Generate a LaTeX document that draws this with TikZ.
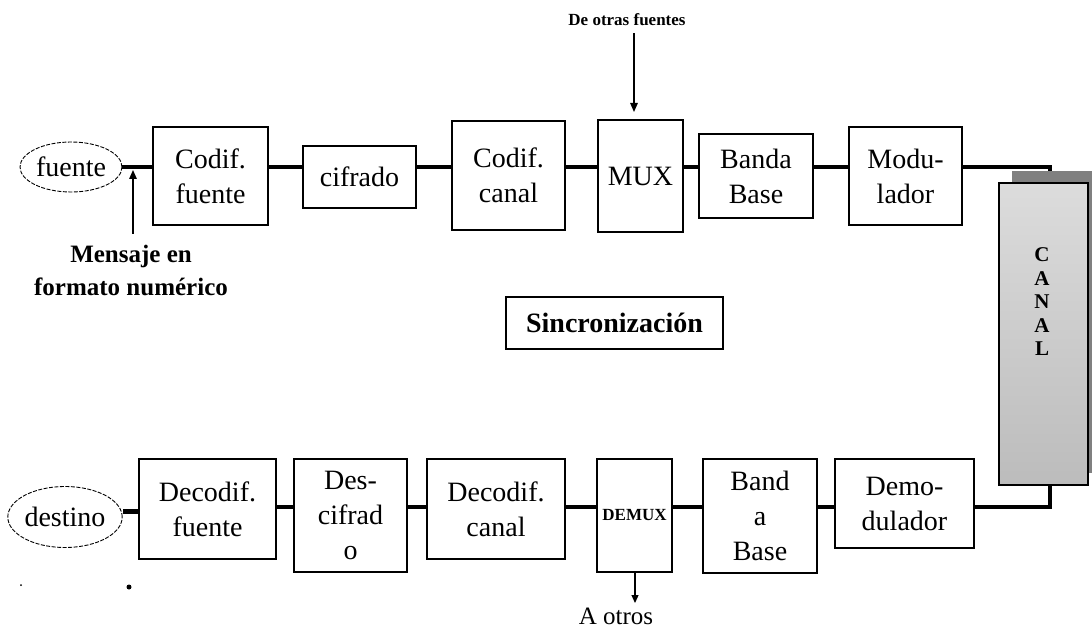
\documentclass[tikz,border=0pt]{standalone}
\usepackage{fontspec}
\setmainfont{Liberation Serif}
\usetikzlibrary{arrows.meta,shapes.geometric}
\definecolor{canaltop}{RGB}{220,220,220}
\definecolor{canalbot}{RGB}{188,188,188}
\definecolor{canalshadow}{RGB}{128,128,128}
\begin{document}
\begin{tikzpicture}[x=1pt,y=-1pt,
  blk/.style={draw, line width=1.5pt, rectangle, align=center, inner sep=0pt,
    font=\fontsize{28}{35}\selectfont},
  src/.style={draw, ellipse, dash pattern=on 4pt off 1.5pt, line width=0.9pt,
    inner sep=0pt, font=\fontsize{28}{34}\selectfont},
  wire/.style={line width=3.2pt},
  arr/.style={line width=1.4pt, -{Triangle[length=9pt,width=7.5pt]}},
  lbl/.style={align=center, inner xsep=0pt}
]
\useasboundingbox (0,0) rectangle (1092,631);

% reference heights of the two signal paths
\coordinate (rowT) at (0,167);
\coordinate (rowB) at (0,507);
\coordinate (rowD) at (0,511);

% ---------- transmitter chain ----------
\node[src, minimum width=102pt, minimum height=50pt] (fte) at (71,167) {fuente};
\node[blk, minimum width=115pt, minimum height=98pt]  (cf)  at (210.5,176) {Codif.\\fuente};
\node[blk, minimum width=113pt, minimum height=62pt]  (cif) at (359.5,177) {cifrado};
\node[blk, minimum width=113pt, minimum height=109pt] (cc)  at (508.5,175.5) {Codif.\\canal};
\node[blk, minimum width=85pt,  minimum height=112pt] (mux) at (640.5,176) {MUX};
\node[blk, minimum width=114pt, minimum height=84pt]  (bb)  at (756,176) {Banda\\Base};
\node[blk, minimum width=113pt, minimum height=98pt]  (mod) at (905.5,176) {Modu-\\lador};

\draw[wire] (fte.east |- rowT) -- (cf.west |- rowT);
\draw[wire] (cf.east |- rowT)  -- (cif.west |- rowT);
\draw[wire] (cif.east |- rowT) -- (cc.west |- rowT);
\draw[wire] (cc.east |- rowT)  -- (mux.west |- rowT);
\draw[wire] (mux.east |- rowT) -- (bb.west |- rowT);
\draw[wire] (bb.east |- rowT)  -- (mod.west |- rowT);

% message entry point
\coordinate (mtip) at (133,170);
\node[lbl, inner ysep=11pt, font=\fontsize{25}{33}\selectfont\bfseries] (msg) at (131,270.5)
  {Mensaje en\\formato numérico};
\draw[arr] (msg.north -| mtip) -- (mtip);

% multiplexed inputs
\coordinate (dtip) at (634,112);
\node[lbl, inner ysep=7pt, font=\fontsize{17}{20}\selectfont\bfseries] (others) at (627,20)
  {De otras fuentes};
\draw[arr] (others.south -| dtip) -- (dtip);

% ---------- synchronisation ----------
\node[blk, minimum width=217pt, minimum height=52pt,
  font=\fontsize{28}{34}\selectfont\bfseries] (sync) at (614.5,323) {Sincronización};

% ---------- receiver chain ----------
\node[src, minimum width=109pt, minimum height=61pt] (dst) at (65,517) {destino};
\node[blk, minimum width=137pt, minimum height=100pt] (df)  at (207.5,509) {Decodif.\\fuente};
\node[blk, minimum width=113pt, minimum height=113pt] (dcf) at (350.5,515.5) {Des-\\cifrad\\o};
\node[blk, minimum width=138pt, minimum height=100pt] (dcc) at (496,509) {Decodif.\\canal};
\node[blk, minimum width=75pt,  minimum height=113pt,
  font=\fontsize{17}{19}\selectfont\bfseries] (dmx) at (634.5,515.5) {DEMUX};
\node[blk, minimum width=114pt, minimum height=114pt] (bab) at (760,516) {Band\\a\\Base};
\node[blk, minimum width=139pt, minimum height=89pt]  (dem) at (904.5,503.5) {Demo-\\dulador};

\draw[wire] (dem.west |- rowB) -- (bab.east |- rowB);
\draw[wire] (bab.west |- rowB) -- (dmx.east |- rowB);
\draw[wire] (dmx.west |- rowB) -- (dcc.east |- rowB);
\draw[wire] (dcc.west |- rowB) -- (dcf.east |- rowB);
\draw[wire] (dcf.west |- rowB) -- (df.east |- rowB);
\draw[line width=5pt] (df.west |- rowD) -- (dst.east |- rowD);

% demultiplexed outputs
\coordinate (atip) at (635,603);
\node[lbl, inner ysep=0pt, font=\fontsize{25}{30}\selectfont] (aot) at (616,616) {A otros};
\draw[line width=1.2pt, -{Triangle[length=8pt,width=7pt]}] (dmx.south -| atip) -- (atip);

% ---------- channel ----------
\coordinate (cin)  at (1050,183);
\coordinate (cout) at (1050,485);
\draw[wire] (mod.east |- rowT) -| (cin);
\draw[wire] (cout) |- (dem.east |- rowB);
\fill[canalshadow] (1012,171) rectangle (1092,473);
\node[draw, line width=1.5pt, top color=canaltop, bottom color=canalbot,
  minimum width=89pt, minimum height=302pt, inner sep=0pt] (canal) at (1043.5,334) {};
\node[lbl, font=\fontsize{21}{23.5}\selectfont\bfseries] (canaltxt) at (1042,302)
  {C\\A\\N\\A\\L};

% stray marks under the sink
\fill (21,585) circle (1pt);
\fill (129,587) circle (2.5pt);
\end{tikzpicture}
\end{document}
